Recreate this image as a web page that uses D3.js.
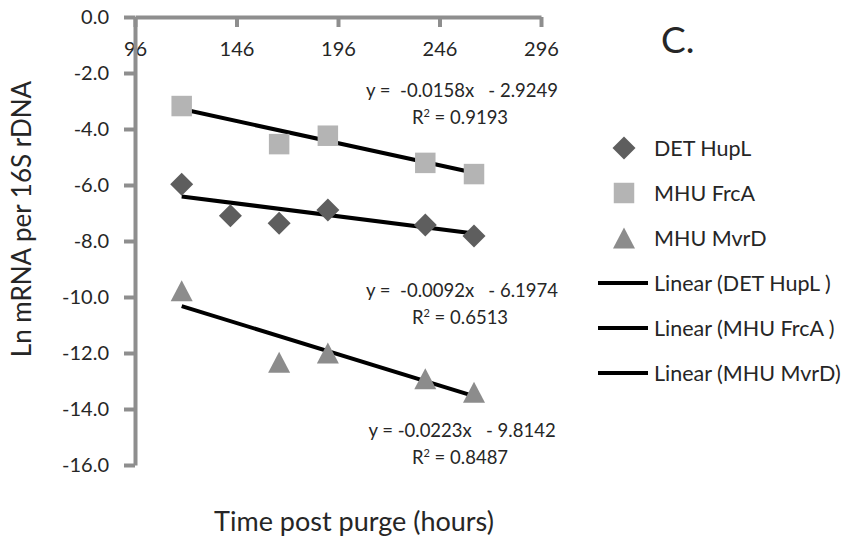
<!DOCTYPE html>
<html>
<head>
<meta charset="utf-8">
<script src="https://cdn.jsdelivr.net/npm/d3@7"></script>
<style>
  body { margin: 0; background: #fff; }
  text { font-family: Lato, "Open Sans", sans-serif; fill: #262626; }
</style>
</head>
<body>
<div id="vis"></div>
<script>
// chart C: transcript levels vs time after purge
const FRAME_WIDTH = 855;
const FRAME_HEIGHT = 541;

const hours = [119, 143, 167, 191, 239, 263];
const hoursMHU = [119, 167, 191, 239, 263];

const detHupL = [-5.97, -7.10, -7.37, -6.89, -7.43, -7.82];
const mhuFrcA = [-3.18, -4.54, -4.24, -5.21, -5.61];
const mhuMvrD = [-9.78, -12.33, -12.00, -12.92, -13.40];

// Excel trendline coefficients (x measured from the axis origin, 96 h)
const slopes = [-0.0092, -0.0158, -0.0223];
const intercepts = [-6.1974, -2.9249, -9.8142];
const r2 = ["0.6513", "0.9193", "0.8487"];

const xTicks = [96, 146, 196, 246, 296];
const yTicks = [0, -2, -4, -6, -8, -10, -12, -14, -16];

const legendLabels = ["DET HupL", "MHU FrcA", "MHU MvrD",
                      "Linear (DET HupL )", "Linear (MHU FrcA )", "Linear (MHU MvrD)"];

const COLORS = ["#5e5e5e", "#b4b4b4", "#8c8c8c"];
const AXIS_GREY = "#8e8e8e";
const X0 = 96;

const X_SCALE = d3.scaleLinear().domain([96, 296]).range([135, 541]);
const Y_SCALE = d3.scaleLinear().domain([0, -16]).range([17, 465]);

const svg = d3.select("#vis")
  .append("svg")
    .attr("width", FRAME_WIDTH)
    .attr("height", FRAME_HEIGHT);

// marker shapes
function marker(kind) {
  if (kind === 0) {
    const h = 11.5;
    return "M0," + (-h) + "L" + h + ",0L0," + h + "L" + (-h) + ",0Z";
  }
  if (kind === 1) {
    return d3.symbol().type(d3.symbolSquare).size(420)();
  }
  const w = 11, hh = 10.5;
  return "M0," + (-hh) + "L" + w + "," + hh + "L" + (-w) + "," + hh + "Z";
}

// axes
const xAxis = svg.append("g")
  .attr("transform", "translate(0," + Y_SCALE(0) + ")")
  .call(d3.axisBottom(X_SCALE).tickValues(xTicks).tickSize(10)
        .tickSizeOuter(0).tickPadding(15).tickFormat(d3.format("d")));

const yAxis = svg.append("g")
  .attr("transform", "translate(" + X_SCALE(96) + ",0)")
  .call(d3.axisLeft(Y_SCALE).tickValues(yTicks).tickSize(11)
        .tickSizeOuter(0).tickPadding(15).tickFormat(d => d.toFixed(1)));

[xAxis, yAxis].forEach(ax => {
  ax.select(".domain").attr("stroke", AXIS_GREY).attr("stroke-width", 4);
  ax.selectAll(".tick line").attr("stroke", AXIS_GREY).attr("stroke-width", 4);
  ax.selectAll(".tick text")
    .attr("font-size", "20px")
    .attr("font-family", "Lato, sans-serif")
    .attr("fill", "#262626");
});

// trendlines
const seriesX = [hours, hoursMHU, hoursMHU];
const seriesY = [detHupL, mhuFrcA, mhuMvrD];

seriesX.forEach((xs, i) => {
  const ends = d3.extent(xs);
  svg.append("line")
    .attr("x1", X_SCALE(ends[0]))
    .attr("y1", Y_SCALE(slopes[i] * (ends[0] - X0) + intercepts[i]))
    .attr("x2", X_SCALE(ends[1]))
    .attr("y2", Y_SCALE(slopes[i] * (ends[1] - X0) + intercepts[i]))
    .attr("stroke", "#000")
    .attr("stroke-width", 4);
});

// points
seriesX.forEach((xs, i) => {
  svg.selectAll(".pt" + i)
    .data(xs.map((x, j) => [x, seriesY[i][j]]))
    .enter()
    .append("path")
      .attr("class", "pt" + i)
      .attr("d", marker(i))
      .attr("transform", d => "translate(" + X_SCALE(d[0]) + "," + Y_SCALE(d[1]) + ")")
      .attr("fill", COLORS[i]);
});

// equation labels (FrcA, HupL, MvrD from top to bottom)
const eqOrder = [1, 0, 2];
const eqBase = [97, 297, 437];
const eqGap = ["  ", "  ", " "];
eqOrder.forEach((s, k) => {
  const b = Math.abs(intercepts[s]).toFixed(4);
  svg.append("text")
    .attr("x", 462)
    .attr("y", eqBase[k])
    .attr("text-anchor", "middle")
    .attr("font-size", "18.5px")
    .style("white-space", "pre")
    .text("y =" + eqGap[k] + slopes[s].toFixed(4) + "x   - " + b);
  const r = svg.append("text")
    .attr("x", 460)
    .attr("y", eqBase[k] + 27)
    .attr("text-anchor", "middle")
    .attr("font-size", "18.5px");
  r.append("tspan").text("R");
  r.append("tspan").attr("font-size", "11px").attr("dy", "-7").text("2");
  r.append("tspan").attr("dy", "7").text(" = " + r2[s]);
});

// panel letter
svg.append("text")
  .attr("x", 661)
  .attr("y", 53)
  .attr("font-size", "37px")
  .text("C.");

// legend
const legend = svg.append("g");
legendLabels.forEach((lab, i) => {
  const ly = 148 + i * 45;
  if (i < 3) {
    legend.append("path")
      .attr("d", marker(i))
      .attr("transform", "translate(624," + ly + ")")
      .attr("fill", COLORS[i]);
  } else {
    legend.append("line")
      .attr("x1", 598).attr("x2", 648)
      .attr("y1", ly).attr("y2", ly)
      .attr("stroke", "#000")
      .attr("stroke-width", 4);
  }
  legend.append("text")
    .attr("x", 654)
    .attr("y", ly)
    .attr("dy", "0.35em")
    .attr("font-size", "21.5px")
    .style("white-space", "pre")
    .text(lab);
});

// axis titles
svg.append("text")
  .attr("x", 354)
  .attr("y", 531)
  .attr("text-anchor", "middle")
  .attr("font-size", "27px")
  .text("Time post purge (hours)");

svg.append("text")
  .attr("transform", "translate(31,219) rotate(-90)")
  .attr("text-anchor", "middle")
  .attr("font-size", "26px")
  .text("Ln mRNA per 16S rDNA");
</script>
</body>
</html>
